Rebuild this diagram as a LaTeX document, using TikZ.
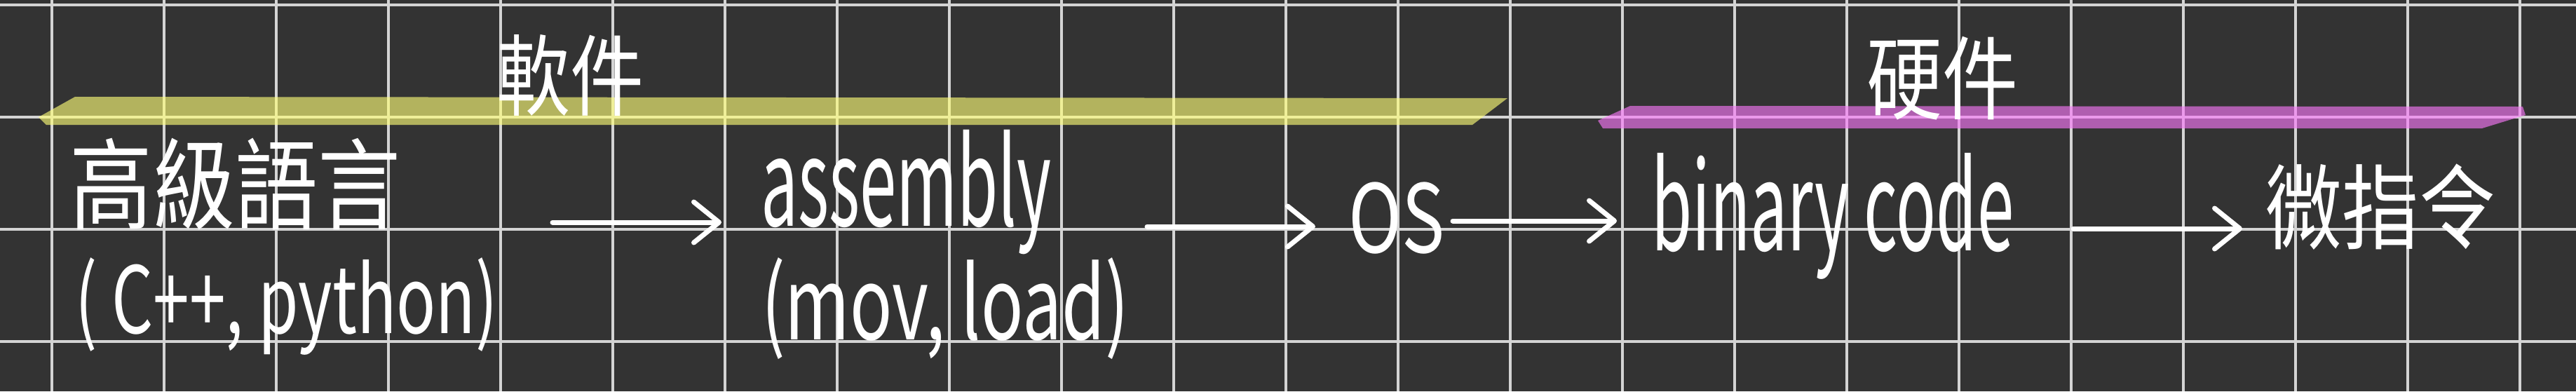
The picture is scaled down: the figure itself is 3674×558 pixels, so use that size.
\documentclass[tikz,border=0pt]{standalone}
\usepackage{fontspec}
\usepackage{graphicx}
\newfontfamily\hand{Noto Sans CJK TC}
\usetikzlibrary{arrows.meta}
\definecolor{bg}{RGB}{51,51,51}
\definecolor{gridc}{RGB}{212,212,212}
\definecolor{hlyellow}{RGB}{255,255,120}
\definecolor{hlpink}{RGB}{250,120,250}
\tikzset{
  gridline/.style={draw=gridc, line width=4pt},
  hlband/.style={fill opacity=0.63, draw=none},
  txt/.style={text=white, inner sep=0pt},
  hw/.style={font={\hand\fontsize{#1}{#1}\selectfont}},
  flow/.style={draw=white, line width=7pt, line cap=round,
    -{Straight Barb[length=36pt,width=58pt,line cap=round,line join=round]}},
}
\begin{document}
\begin{tikzpicture}[x=1pt,y=-1pt]
\useasboundingbox (0,0) rectangle (3674,558);
\fill[bg] (0,0) rectangle (3674,558);
% grid
\foreach \k in {0,...,22} \draw[gridline] ({73.5+160*\k},0) -- ({73.5+160*\k},558);
\foreach \yy in {7,167,327,487} \draw[gridline] (0,\yy) -- (3674,\yy);
% highlighter bands
\fill[hlband, hlyellow] (107,138) -- (2150,140) -- (2100,178) -- (66,178) -- (55,167) -- cycle;
\fill[hlband, hlpink] (2325,151) -- (3598,152) -- (3602,164) -- (3540,183) -- (2286,183) -- (2279,172) -- cycle;
% headings
\node[txt, hw=105] (soft) at (813,108) {\scalebox{1}[1.2]{軟件}};
\node[txt, hw=108] (hard) at (2770,112) {\scalebox{1}[1.2]{硬件}};
% main row
\node[txt, hw=118] (hll) at (335,262) {\scalebox{1}[1.2]{高級語言}};
\node[txt, anchor=base west] (hllex) at (107,475) {\scalebox{0.774}[1.1]{\hand\fontsize{120}{120}\selectfont ( C++, python)}};
\node[txt, anchor=base west] (asm) at (1085,322) {\scalebox{0.627}[1.15]{\hand\fontsize{150}{150}\selectfont assembly}};
\node[txt, anchor=base west] (asmex) at (1086,484) {\scalebox{0.768}[1.1]{\hand\fontsize{130}{130}\selectfont (mov, load)}};
\node[txt, anchor=base west] (os) at (1923,360) {\scalebox{0.76}[1]{\hand\fontsize{135}{135}\selectfont OS}};
\node[txt, anchor=base west] (bin) at (2355,357) {\scalebox{0.619}[1.15]{\hand\fontsize{152}{152}\selectfont binary code}};
\node[txt, hw=110] (micro) at (3395,295) {\scalebox{1}[1.2]{微指令}};
% arrows
\coordinate (a1s) at (788,317);  \coordinate (a1e) at (1029,317);
\coordinate (a2s) at (1636,323); \coordinate (a2e) at (1876,323);
\coordinate (a3s) at (2072,315); \coordinate (a3e) at (2306,315);
\coordinate (a4s) at (2957,326); \coordinate (a4e) at (3198,326);
\draw[flow] (a1s) -- (a1e);
\draw[flow] (a2s) -- (a2e);
\draw[flow] (a3s) -- (a3e);
\draw[flow] (a4s) -- (a4e);
\end{tikzpicture}
\end{document}
